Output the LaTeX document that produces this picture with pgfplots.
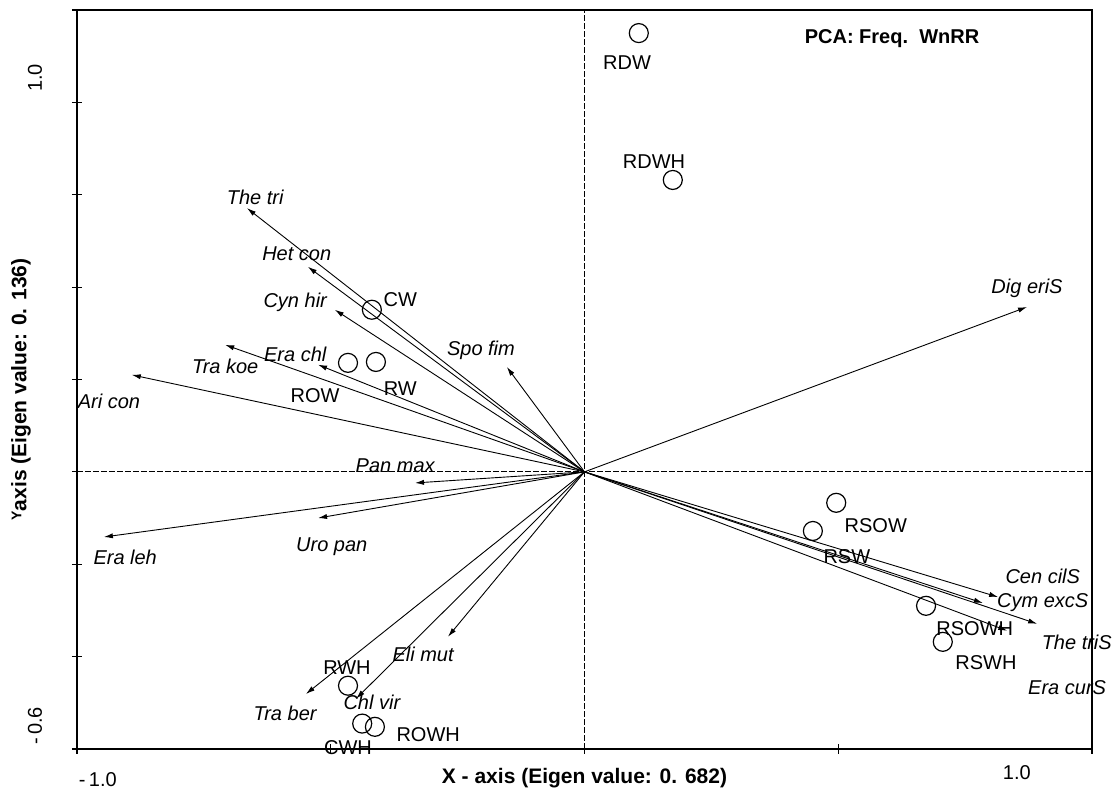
\documentclass[border=0pt]{standalone}
\usepackage{pgfplots}
\pgfplotsset{compat=1.18}
\usepackage{pgfplotstable}
\usepackage{fontspec}
\setmainfont{Liberation Sans}
\usetikzlibrary{arrows.meta}

% species vectors: arrow tip (ax,ay), label centre (lx,ly)
\pgfplotstableread[col sep=comma]{
name,ax,ay,lx,ly
The tri,-0.665,0.571,-0.649,0.595
Het con,-0.545,0.444,-0.567,0.472
Cyn hir,-0.492,0.351,-0.570,0.368
Era chl,-0.525,0.232,-0.570,0.255
Tra koe,-0.708,0.275,-0.708,0.229
Ari con,-0.892,0.210,-0.937,0.152
Spo fim,-0.153,0.227,-0.204,0.264
Pan max,-0.334,-0.024,-0.373,0.013
Uro pan,-0.525,-0.100,-0.498,-0.162
Era leh,-0.947,-0.141,-0.905,-0.186
Eli mut,-0.269,-0.357,-0.318,-0.396
Tra ber,-0.549,-0.481,-0.590,-0.522
Chl vir,-0.450,-0.491,-0.419,-0.498
Dig eriS,0.872,0.357,0.872,0.398
Cen cilS,0.815,-0.271,0.903,-0.227
Cym excS,0.785,-0.284,0.903,-0.284
The triS,0.892,-0.329,0.970,-0.370
Era curS,0.833,-0.344,0.951,-0.468
}\species

% sites: circle centre (cx,cy), label centre (lx,ly)
\pgfplotstableread[col sep=comma]{
name,cx,cy,lx,ly
RDW,0.107,0.950,0.084,0.885
RDWH,0.174,0.632,0.137,0.671
CW,-0.419,0.351,-0.363,0.374
ROW,-0.466,0.236,-0.531,0.165
RW,-0.411,0.238,-0.363,0.180
RSOW,0.496,-0.067,0.574,-0.117
RSW,0.450,-0.128,0.517,-0.184
RSOWH,0.673,-0.290,0.769,-0.340
RSWH,0.706,-0.368,0.791,-0.413
RWH,-0.466,-0.463,-0.468,-0.424
CWH,-0.438,-0.545,-0.466,-0.597
ROWH,-0.413,-0.552,-0.308,-0.569
}\sites

\begin{document}
\begin{tikzpicture}
\useasboundingbox (-38.5pt,-26pt) rectangle (521.5pt,374.5pt);
\begin{axis}[
  at={(0,0)}, anchor=south west,
  scale only axis, width=507.5pt, height=369.5pt,
  xmin=-1, xmax=1, ymin=-0.6, ymax=1.0,
  xtick={-1,-0.5,0,0.5,1}, ytick={-0.6,-0.4,-0.2,0,0.2,0.4,0.6,0.8,1.0},
  xticklabels={}, yticklabels={},
  xtick pos=bottom, ytick pos=left,
  tick align=center, major tick length=5pt,
  axis line style={line width=0.65pt},
  every tick/.style={black, line width=0.6pt},
  clip=false,
  font=\fontsize{10}{12}\selectfont,
  xlabel={\bfseries X - axis (Eigen value: 0. 682)},
  xlabel style={at={(axis description cs:0.5,0)}, anchor=center, yshift=-14.5pt, font=\fontsize{10.5}{12}\selectfont},
  ylabel={\bfseries\raisebox{0.45ex}{\fontsize{7}{8}\selectfont Y}axis (Eigen value: 0. 136)},
  ylabel style={at={(axis description cs:0,0.5)}, anchor=center, yshift=28pt, xshift=-5pt, font=\fontsize{10.5}{12}\selectfont},
]
% zero lines
\addplot[black, line width=0.4pt, dash pattern=on 3pt off 1pt] coordinates {(-1,0) (1,0)};
\addplot[black, line width=0.4pt, dash pattern=on 3pt off 1pt] coordinates {(0,-0.6) (0,1)};
% species arrows
\addplot[black, line width=0.45pt, -{Latex[length=4.5pt,width=2.6pt]},
  quiver={u=\thisrow{ax}, v=\thisrow{ay}}]
  table[x expr=0, y expr=0] {\species};
% species labels
\addplot[only marks, mark=none, nodes near coords, point meta=explicit symbolic,
  nodes near coords style={anchor=center, inner sep=0pt, font=\fontsize{10}{12}\selectfont\itshape}]
  table[x=lx, y=ly, meta=name] {\species};
% site circles
\addplot[only marks, mark=o, mark size=4.75pt, mark options={black, line width=0.6pt}]
  table[x=cx, y=cy] {\sites};
% site labels
\addplot[only marks, mark=none, nodes near coords, point meta=explicit symbolic,
  nodes near coords style={anchor=center, inner sep=0pt, font=\fontsize{10}{12}\selectfont}]
  table[x=lx, y=ly, meta=name] {\sites};
% tick labels as printed in the original
\node[anchor=center] at (axis cs:-0.959,-0.667) {-\,1.0};
\node[anchor=center] at (axis cs:0.852,-0.652) {1.0};
\node[anchor=center, rotate=90] at (axis cs:-1.083,0.853) {1.0};
\node[anchor=center, rotate=90] at (axis cs:-1.083,-0.55) {-\,0.6};
% title
\node[anchor=center, font=\fontsize{10}{12}\selectfont\bfseries] at (axis cs:0.606,0.939) {PCA: Freq.\ \ WnRR};
\end{axis}
\end{tikzpicture}
\end{document}
